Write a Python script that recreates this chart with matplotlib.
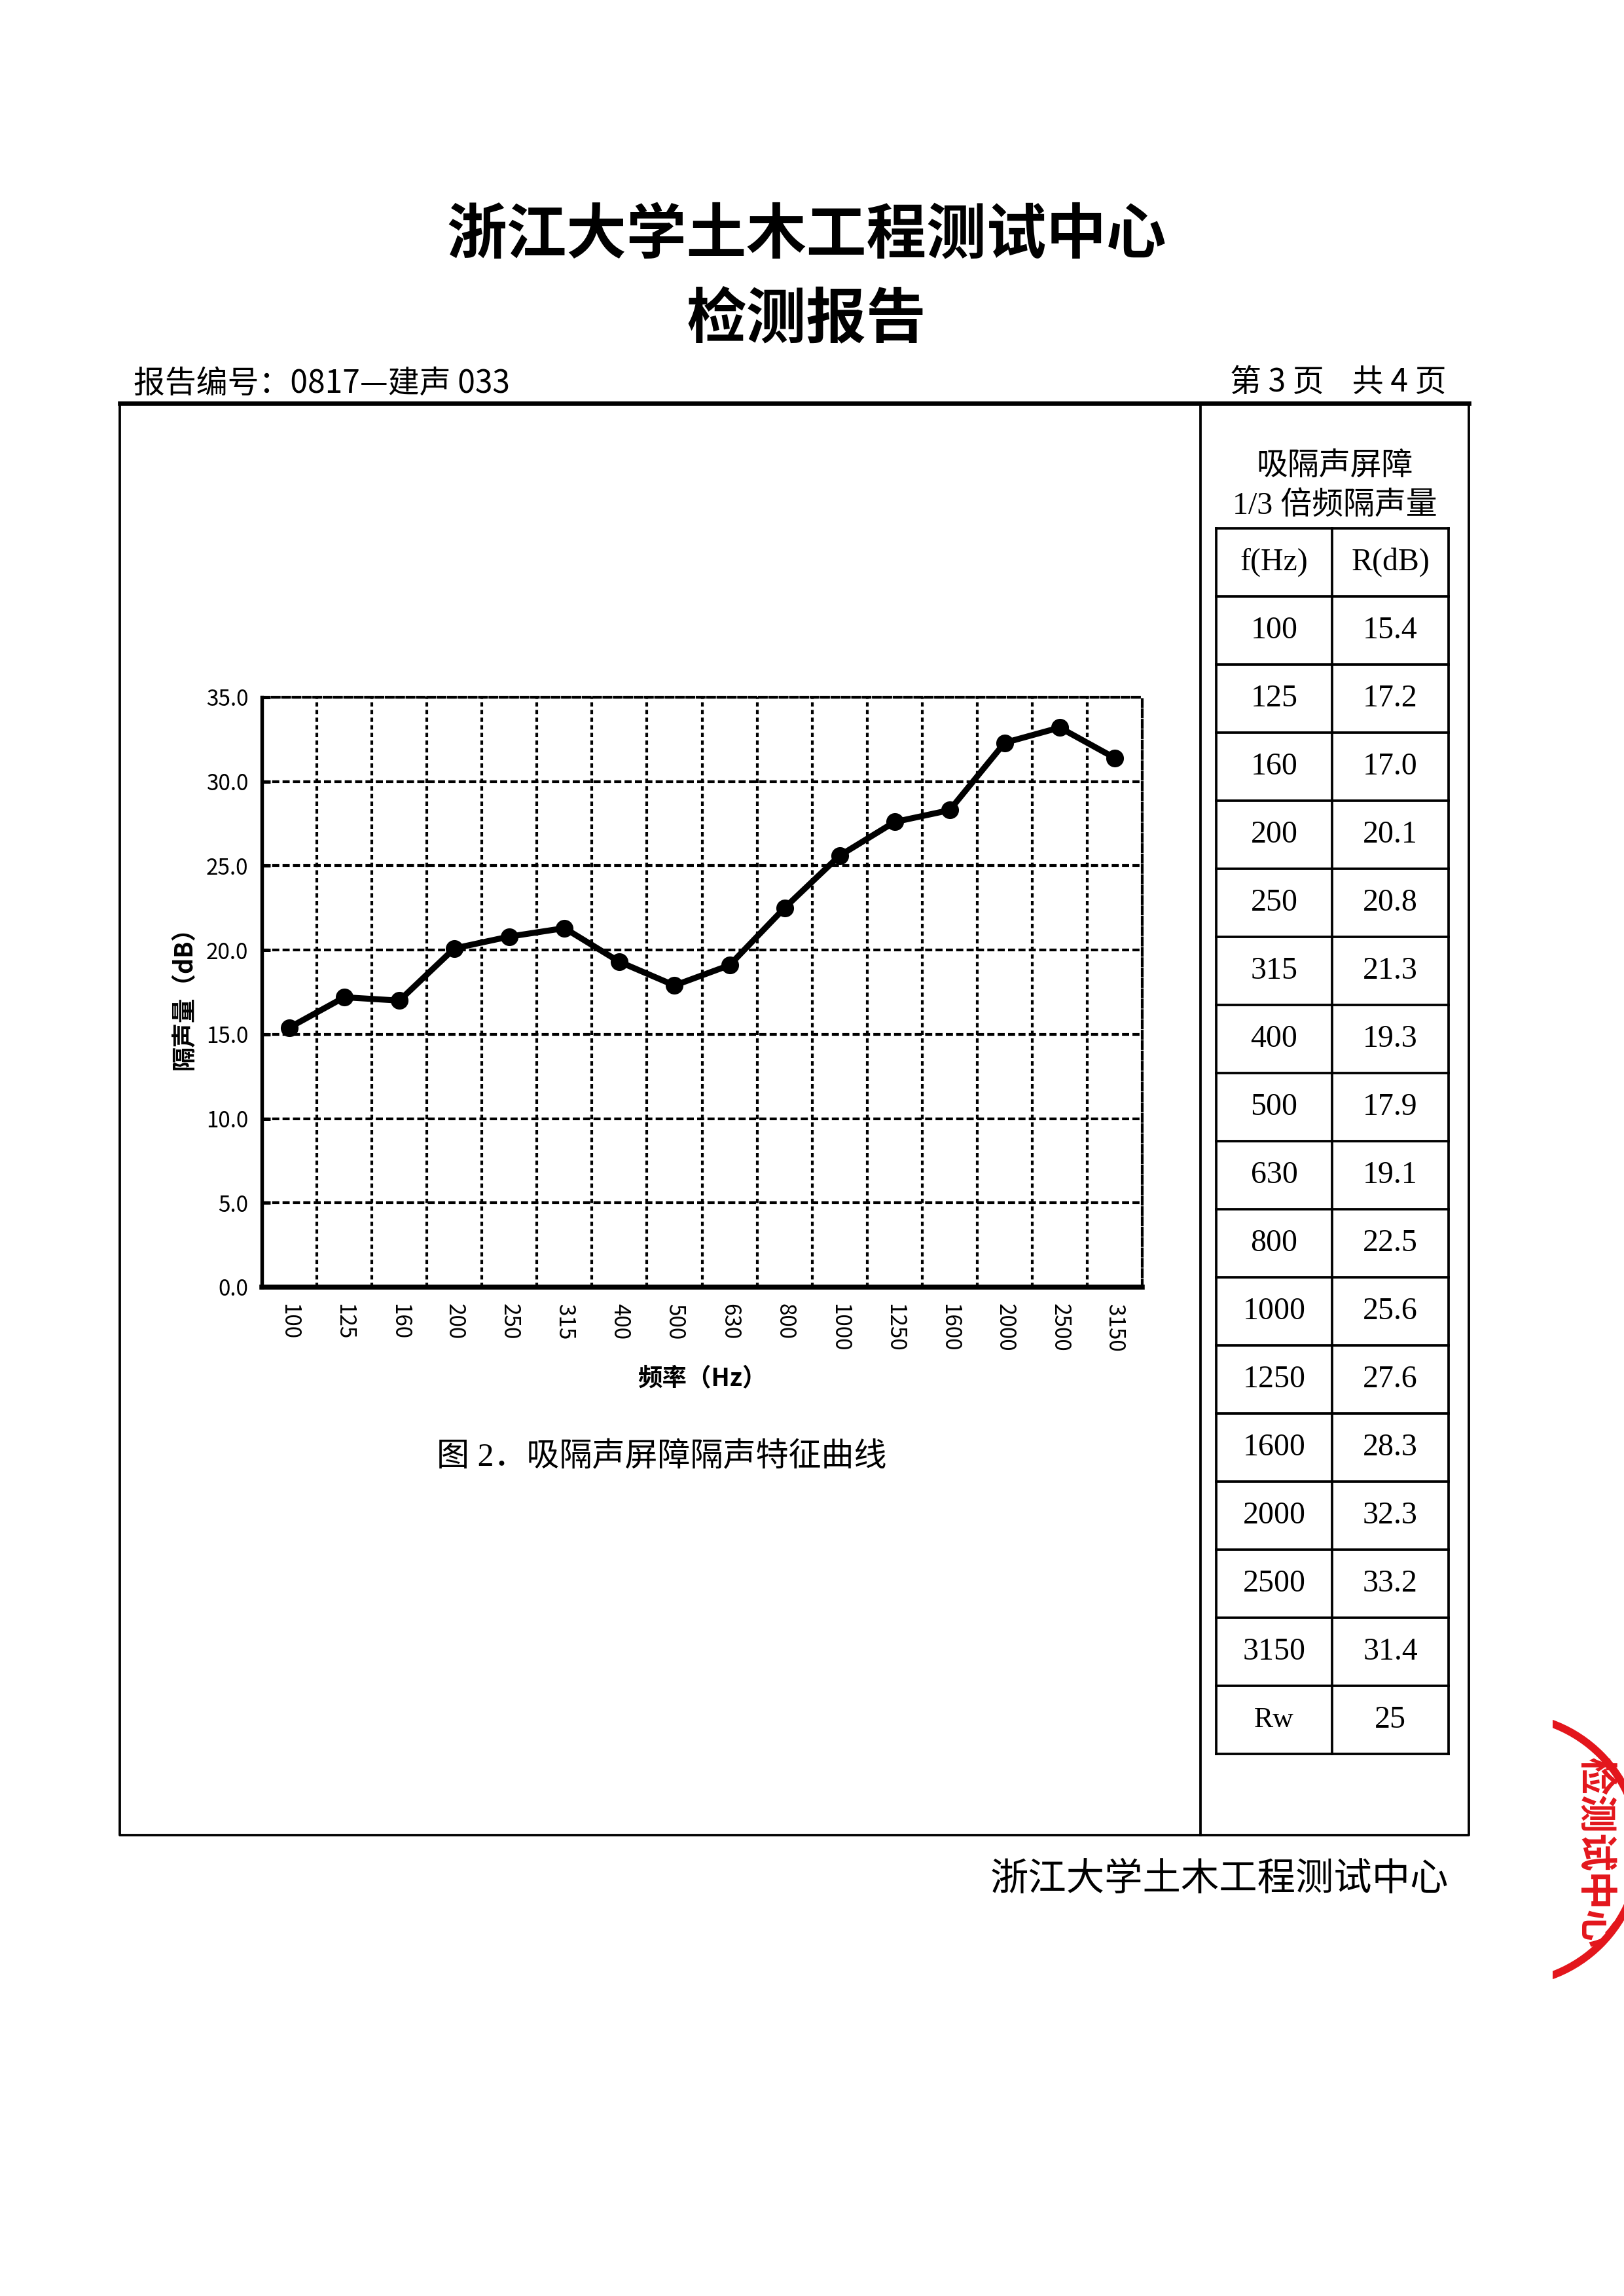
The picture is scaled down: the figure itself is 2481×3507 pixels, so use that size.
import matplotlib
matplotlib.use('Agg')
import matplotlib.pyplot as plt
from matplotlib.patches import Circle, Rectangle

plt.rcParams['font.family'] = ['Noto Sans CJK SC', 'DejaVu Sans']

freqs = ['100', '125', '160', '200', '250', '315', '400', '500', '630', '800',
         '1000', '1250', '1600', '2000', '2500', '3150']
R_db = [15.4, 17.2, 17.0, 20.1, 20.8, 21.3, 19.3, 17.9, 19.1, 22.5,
        25.6, 27.6, 28.3, 32.3, 33.2, 31.4]
rw = 25
y_ticks = [0, 5, 10, 15, 20, 25, 30, 35]

W, H = 2481, 3507
SERIF = ['Liberation Serif', 'Noto Sans CJK SC']
RED = '#e3161c'

fig = plt.figure(figsize=(W / 300, H / 300), dpi=300)
fig.patch.set_facecolor('white')

# page layer in pixel coordinates
pg = fig.add_axes([0, 0, 1, 1])
pg.set_xlim(0, W)
pg.set_ylim(H, 0)
pg.axis('off')

# header
pg.text(1232, 360, '浙江大学土木工程测试中心', fontsize=22, fontweight='bold',
        ha='center', va='center')
pg.text(1232, 488, '检测报告', fontsize=22, fontweight='bold',
        ha='center', va='center')
pg.text(204, 586, '报告编号：0817—建声 033', fontsize=11.5, ha='left', va='center')
pg.text(2210, 584, '第 3 页    共 4 页', fontsize=11.5, ha='right', va='center')

# outer frame
box_l, box_r, box_t, box_b, box_mid = 183, 2244, 616, 2803, 1834
pg.plot([box_l, box_r], [box_t, box_t], color='black', lw=1.6)
pg.plot([box_r, box_r, box_l, box_l], [box_t, box_b, box_b, box_t], color='black', lw=0.9)
pg.plot([box_mid, box_mid], [box_t, box_b], color='black', lw=0.9)

# side table
pg.text(2039, 713, '吸隔声屏障', family=SERIF, fontsize=11.5, ha='center', va='center')
pg.text(2039, 772, '1/3 倍频隔声量', family=SERIF, fontsize=11.5, ha='center', va='center')

tx0, tx1, tx2 = 1858, 2035, 2213
ty0, row_h = 807, 104
rows = [('f(Hz)', 'R(dB)')] + list(zip(freqs, [f'{v:.1f}' for v in R_db])) + [('Rw', str(rw))]
n = len(rows)
for i in range(n + 1):
    pg.plot([tx0, tx2], [ty0 + i * row_h] * 2, color='black', lw=0.9)
for xx in (tx0, tx1, tx2):
    pg.plot([xx, xx], [ty0, ty0 + n * row_h], color='black', lw=0.9)
for i, (a, b) in enumerate(rows):
    yc = ty0 + (i + 0.5) * row_h
    fs = 10.5 if a == 'Rw' else 11.5
    pg.text((tx0 + tx1) / 2, yc, a, family=SERIF, fontsize=fs, ha='center', va='center')
    pg.text((tx1 + tx2) / 2, yc, b, family=SERIF, fontsize=11.5, ha='center', va='center')

# chart
ax = fig.add_axes([400 / W, 1 - 1966 / H, (1745 - 400) / W, (1966 - 1065) / H])
xs = list(range(len(freqs)))
ax.plot(xs, R_db, color='black', lw=2.2, marker='o', ms=5.5, zorder=3)
ax.set_xlim(-0.5, len(freqs) - 0.5)
ax.set_ylim(0, 35)
ax.set_yticks(y_ticks)
ax.set_yticklabels([f'{v:.1f}' for v in y_ticks])
ax.set_xticks(xs)
ax.set_xticklabels(freqs, rotation=-90)
ax.set_xticks([i + 0.5 for i in range(len(freqs) - 1)], minor=True)
ax.set_axisbelow(True)
ax.grid(axis='y', which='major', color='black', lw=1.0, ls=(0, (2.6, 1.2)))
ax.grid(axis='x', which='minor', color='black', lw=1.0, ls=(0, (1.6, 1.2)))
ax.tick_params(axis='x', which='both', length=0, pad=6, labelsize=8)
ax.tick_params(axis='y', direction='in', length=3, width=1.2, pad=5, labelsize=8)
for s in ('top', 'right'):
    ax.spines[s].set_linestyle((0, (2.6, 1.2)))
    ax.spines[s].set_linewidth(1.0)
ax.spines['left'].set_linewidth(1.3)
ax.spines['bottom'].set_linewidth(1.8)
ax.set_ylabel('隔声量（dB）', fontsize=9, fontweight='bold')
ax.yaxis.set_label_coords(-0.074, 0.5)
ax.set_xlabel('频率（Hz）', fontsize=9, fontweight='bold')
ax.xaxis.set_label_coords(0.5, -0.133)

# caption and footer
pg.text(1011, 2226, '图 2．吸隔声屏障隔声特征曲线', family=SERIF, fontsize=12,
        ha='center', va='center')
pg.text(2213, 2870, '浙江大学土木工程测试中心', fontsize=14, ha='right', va='center')

# partial seal at the page edge
clip = Rectangle((2372, 2550), 200, 520, transform=pg.transData)
ring = Circle((2300, 2825), 205, fill=False, ec=RED, lw=2.8)
pg.add_patch(ring)
ring.set_clip_path(clip)
seal = pg.text(2436, 2830, '检测试中心', rotation=-90, color=RED, fontsize=14,
               fontweight='bold', ha='center', va='center')
seal.set_clip_path(clip)

fig.savefig('out.png', dpi=300, facecolor='white')
